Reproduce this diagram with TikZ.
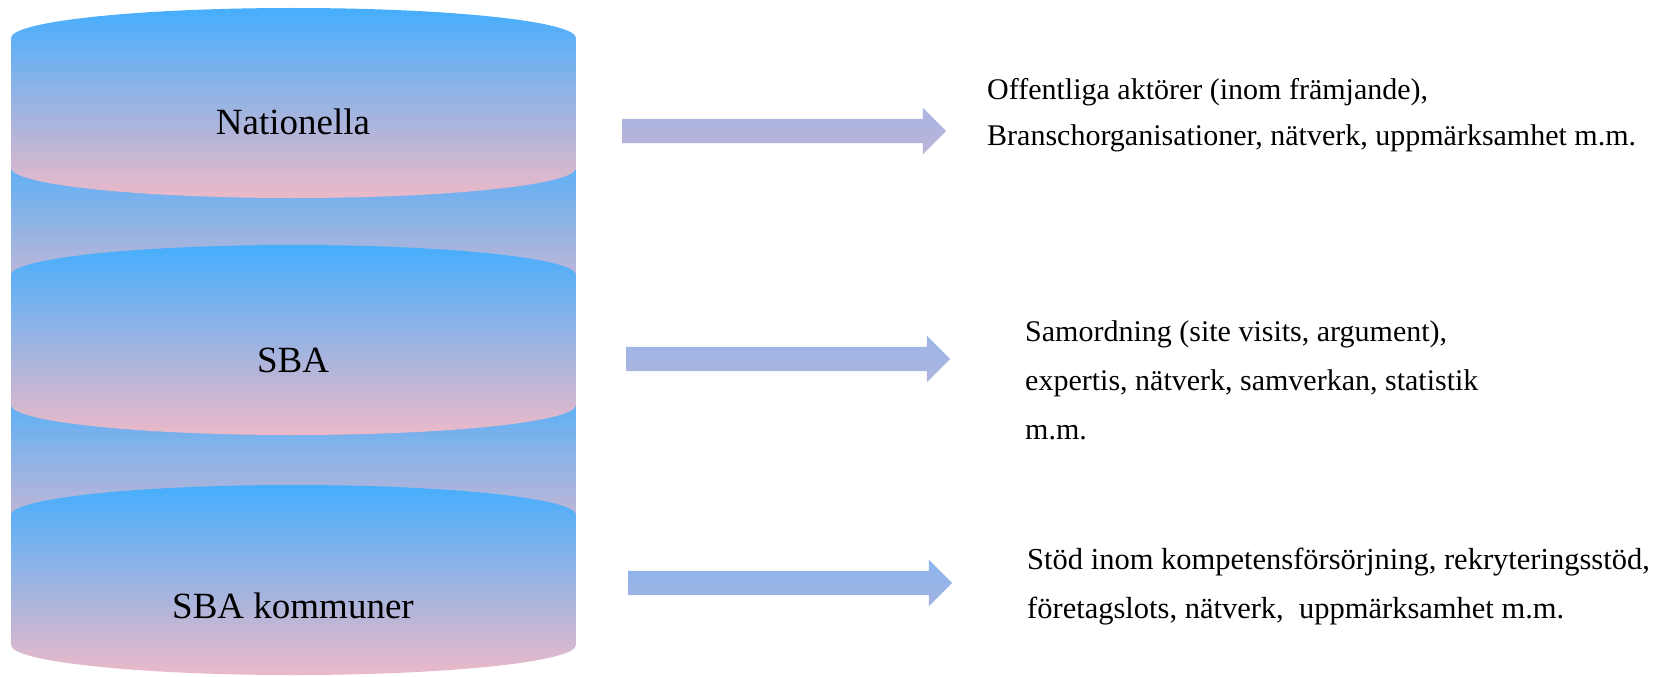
\documentclass[tikz,border=0pt]{standalone}
\usepackage{fontspec}
\setmainfont{Liberation Serif}
\usepackage{tikz}
\usetikzlibrary{shapes,arrows,positioning}
\definecolor{cylblue}{RGB}{69,174,253}
\definecolor{cylpink}{RGB}{236,185,200}
\definecolor{arrtopa}{RGB}{168,181,226}
\definecolor{arrbota}{RGB}{188,180,216}
\definecolor{arrtopb}{RGB}{156,183,232}
\definecolor{arrbotb}{RGB}{174,180,222}
\definecolor{arrtopc}{RGB}{140,182,238}
\definecolor{arrbotc}{RGB}{162,178,226}
\tikzstyle{layer} = [top color=cylblue, bottom color=cylpink, draw=none]
\tikzstyle{lbl} = [text=black, inner sep=0pt, font=\fontsize{37}{40}\selectfont]
\tikzstyle{info} = [text=black, inner sep=0pt, anchor=west, align=left, font=\fontsize{30}{46}\selectfont]
\tikzstyle{flow} = [single arrow, single arrow head extend=11pt, single arrow tip angle=90, minimum height=324pt, text height=24pt, text depth=0pt, inner sep=0pt, draw=none]

\begin{document}
\begin{tikzpicture}[x=1pt, y=-1pt]
\useasboundingbox (0,0) rectangle (1660,677);

% layers =============================

% bands behind the layers
\shade[layer] (11,168) arc[start angle=180, end angle=360, x radius=282.5, y radius=30] -- (576,300) arc[start angle=0, end angle=180, x radius=282.5, y radius=30] -- cycle;
\shade[layer] (11,405) arc[start angle=180, end angle=360, x radius=282.5, y radius=30] -- (576,537) arc[start angle=0, end angle=180, x radius=282.5, y radius=30] -- cycle;

% the three layers
\shade[layer] (11,38) arc[start angle=180, end angle=360, x radius=282.5, y radius=30] -- (576,168) arc[start angle=0, end angle=180, x radius=282.5, y radius=30] -- cycle;
\shade[layer] (11,275) arc[start angle=180, end angle=360, x radius=282.5, y radius=30] -- (576,405) arc[start angle=0, end angle=180, x radius=282.5, y radius=30] -- cycle;
\shade[layer] (11,515) arc[start angle=180, end angle=360, x radius=282.5, y radius=30] -- (576,645) arc[start angle=0, end angle=180, x radius=282.5, y radius=30] -- cycle;

\node[lbl] (natl) at (293,122) {Nationella};
\node[lbl] (sba) at (293,360) {SBA};
\node[lbl] (komm) at (293,606) {SBA kommuner};

% arrows
\node[flow, top color=arrtopa, bottom color=arrbota] (arr1) at (778,131) {};
\node[flow, top color=arrtopb, bottom color=arrbotb] (arr2) at (782,359) {};
\node[flow, top color=arrtopc, bottom color=arrbotc] (arr3) at (784,583) {};

% texts
\node[info] (txt1) at (987,115) {Offentliga aktörer (inom främjande),\\Branschorganisationer, nätverk, uppmärksamhet m.m.};
\node[info, font=\fontsize{30}{49}\selectfont] (txt2) at (1025,380) {Samordning (site visits, argument),\\expertis, nätverk, samverkan, statistik\\m.m.};
\node[info, font=\fontsize{30.5}{49}\selectfont] (txt3) at (1027,587) {Stöd inom kompetensförsörjning, rekryteringsstöd,\\företagslots, nätverk,\ \ uppmärksamhet m.m.};

\end{tikzpicture}
\end{document}
